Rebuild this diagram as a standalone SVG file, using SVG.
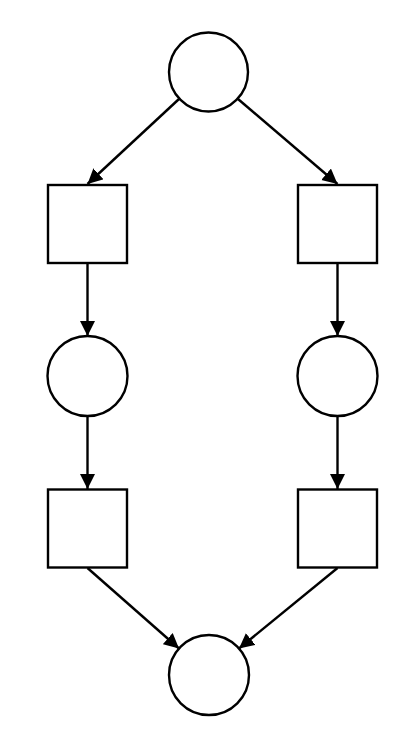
<svg xmlns="http://www.w3.org/2000/svg" width="415" height="743" viewBox="0 0 415 743">
<style>
.n{fill:#fff;stroke:#000;stroke-width:2.4}
.e{stroke:#000;stroke-width:2.4;fill:none;marker-end:url(#ah)}
</style>
<defs>
<marker id="ah" markerUnits="userSpaceOnUse" markerWidth="16" markerHeight="16" refX="15" refY="7.5" orient="auto">
<path d="M0,0 L15,7.5 L0,15 z" fill="#000"/>
</marker>
</defs>
<rect width="415" height="743" fill="#fff"/>
<g id="connectors">
<line class="e" x1="179" y1="99" x2="87.5" y2="184"/>
<line class="e" x1="238" y1="99" x2="337.5" y2="184"/>
<line class="e" x1="87.5" y1="263" x2="87.5" y2="336"/>
<line class="e" x1="337.5" y1="263" x2="337.5" y2="336"/>
<line class="e" x1="87.5" y1="416" x2="87.5" y2="489"/>
<line class="e" x1="337.5" y1="416" x2="337.5" y2="489"/>
<line class="e" x1="87.5" y1="568" x2="179" y2="648.5"/>
<line class="e" x1="337.5" y1="568" x2="239" y2="648.5"/>
</g>
<g id="p1"><circle class="n" cx="208.5" cy="72" r="39.5"/></g>
<g id="t1"><rect class="n" x="48" y="185" width="79" height="78"/></g>
<g id="t2"><rect class="n" x="298" y="185" width="79" height="78"/></g>
<g id="p2"><circle class="n" cx="87.5" cy="376" r="40"/></g>
<g id="p3"><circle class="n" cx="337.5" cy="376" r="40"/></g>
<g id="t3"><rect class="n" x="48" y="489.5" width="79" height="78"/></g>
<g id="t4"><rect class="n" x="298" y="489.5" width="79" height="78"/></g>
<g id="p4"><circle class="n" cx="209" cy="675" r="40"/></g>
</svg>
